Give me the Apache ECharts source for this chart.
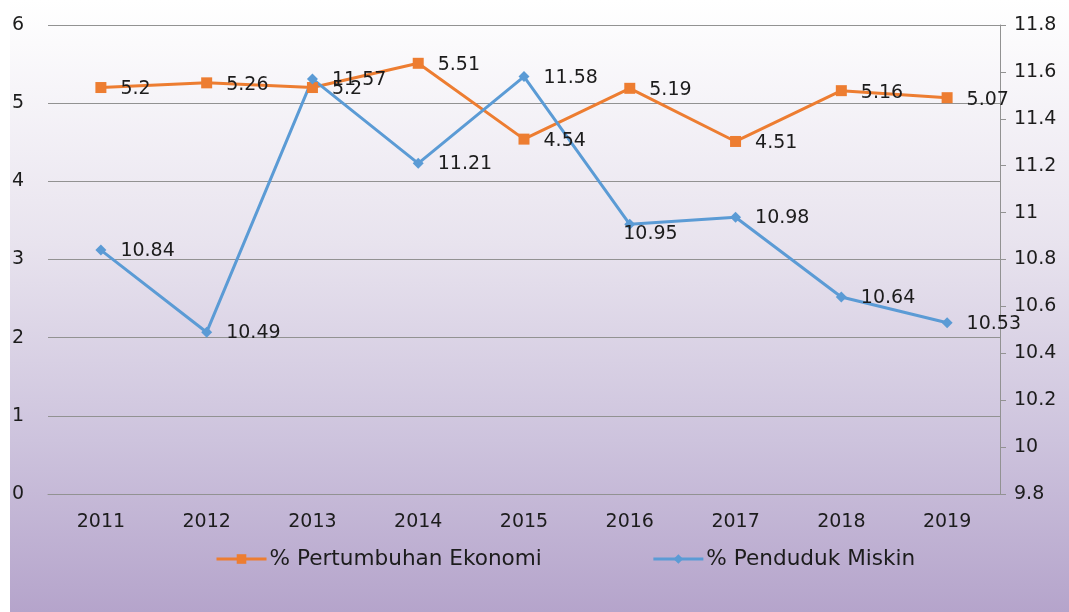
<!DOCTYPE html>
<html>
<head>
<meta charset="utf-8">
<script src="https://cdn.jsdelivr.net/npm/echarts@6/dist/echarts.min.js"></script>
<style>
  html, body { margin: 0; padding: 0; background: #fff; }
  #chart { width: 1069px; height: 612px; }
</style>
</head>
<body>
<div id="chart"></div>
<script>
const years = ['2011', '2012', '2013', '2014', '2015', '2016', '2017', '2018', '2019']
const growth = [5.2, 5.26, 5.2, 5.51, 4.54, 5.19, 4.51, 5.16, 5.07]
const poverty = [10.84, 10.49, 11.57, 11.21, 11.58, 10.95, 10.98, 10.64, 10.53]

const font = 'DejaVu Sans'
const textColor = '#1c1c1c'
const gridColor = '#929292'

const chart = echarts.init(document.getElementById('chart'))

chart.setOption({
  animation: false,
  textStyle: { fontFamily: font },
  graphic: [{
    type: 'rect',
    z: -10,
    silent: true,
    shape: { x: 10, y: 0, width: 1059, height: 612 },
    style: {
      fill: new echarts.graphic.LinearGradient(0, 0, 0, 1, [
        { offset: 0, color: '#ffffff' },
        { offset: 0.4, color: '#e8e3ee' },
        { offset: 0.72, color: '#cdc3dd' },
        { offset: 1, color: '#b5a4cb' }
      ])
    }
  }],
  grid: { left: 48, right: 69, top: 25, bottom: 118 },
  legend: {
    bottom: 37,
    left: 210,
    itemGap: 110,
    itemWidth: 50,
    itemHeight: 12,
    lineStyle: { width: 3 },
    textStyle: { fontSize: 21.6, color: textColor, fontFamily: font, padding: [0, 0, 0, -2] },
    data: ['% Pertumbuhan Ekonomi', '% Penduduk Miskin']
  },
  xAxis: {
    type: 'category',
    data: years,
    axisLine: { lineStyle: { color: gridColor } },
    axisTick: { show: false },
    axisLabel: { fontSize: 19, color: textColor, margin: 19 }
  },
  yAxis: [{
    type: 'value',
    min: 0,
    max: 6,
    interval: 1,
    axisLine: { show: false },
    axisTick: { show: false },
    axisLabel: { fontSize: 19, color: textColor, margin: 24 },
    splitLine: { lineStyle: { color: gridColor } }
  }, {
    type: 'value',
    min: 9.8,
    max: 11.8,
    interval: 0.2,
    position: 'right',
    axisLine: { show: true, lineStyle: { color: gridColor } },
    axisTick: { show: true, length: 6, lineStyle: { color: gridColor } },
    axisLabel: {
      fontSize: 19, color: textColor, margin: 14,
      formatter: v => String(+v.toFixed(1))
    },
    splitLine: { show: false }
  }],
  series: [{
    name: '% Pertumbuhan Ekonomi',
    type: 'line',
    yAxisIndex: 0,
    data: growth,
    symbol: 'rect',
    symbolSize: 11,
    lineStyle: { color: '#ed7d31', width: 3 },
    itemStyle: { color: '#ed7d31' },
    label: {
      show: true,
      position: 'right',
      distance: 14,
      offset: [0, 2],
      fontSize: 19,
      color: textColor
    }
  }, {
    name: '% Penduduk Miskin',
    type: 'line',
    yAxisIndex: 1,
    data: poverty.map((v, i) => i === 5
      ? { value: v, label: { offset: [-26, 10] } }
      : v),
    symbol: 'diamond',
    symbolSize: 11,
    lineStyle: { color: '#5b9bd5', width: 3 },
    itemStyle: { color: '#5b9bd5' },
    label: {
      show: true,
      position: 'right',
      distance: 14,
      offset: [0, 1],
      fontSize: 19,
      color: textColor
    }
  }]
})
</script>
</body>
</html>
